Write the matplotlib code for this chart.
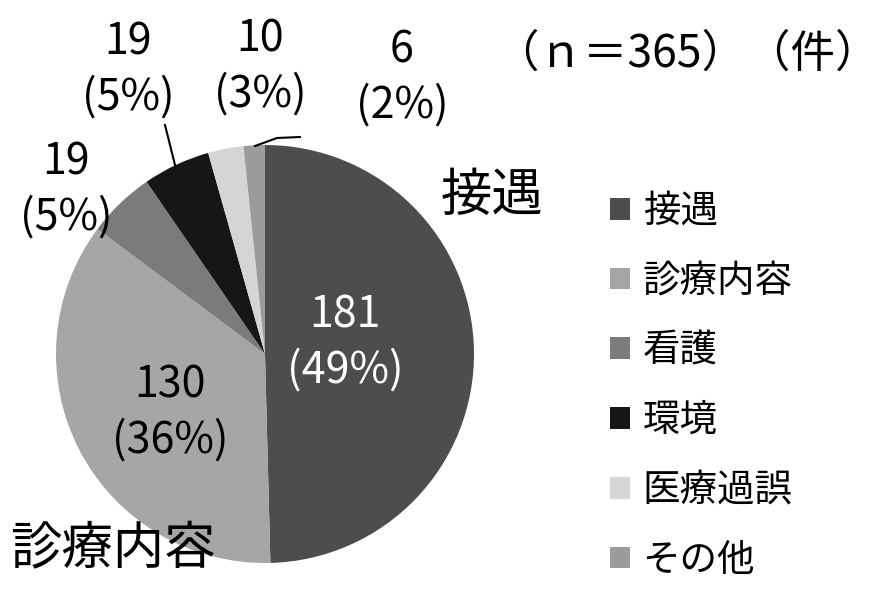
import matplotlib
matplotlib.use('Agg')
import matplotlib.pyplot as plt

plt.rcParams['font.family'] = ['Noto Sans CJK JP', 'DejaVu Sans']

# データ
categories = ['接遇', '診療内容', '看護', '環境', '医療過誤', 'その他']
counts = [181, 130, 19, 19, 10, 6]
percent_labels = ['49%', '36%', '5%', '5%', '3%', '2%']
colors = ['#4d4d4d', '#a6a6a6', '#7b7b7b', '#161616', '#d5d5d5', '#9b9b9b']
total_label = '（ｎ＝365）（件）'

W, H = 890, 592
fig = plt.figure(figsize=(W / 100, H / 100), dpi=100)
ax = fig.add_axes([0, 0, 1, 1])

# 円グラフ (中心と半径はピクセル単位)
cx, cy, r = 265, H - 354, 209
wedges, _ = ax.pie(counts, colors=colors, startangle=90, counterclock=False,
                   center=(cx, cy), radius=r, wedgeprops=dict(linewidth=0),
                   frame=True)
ax.set_xlim(0, W)
ax.set_ylim(0, H)
ax.set_aspect('equal')
ax.axis('off')

# 値ラベルの位置 (上からのピクセル座標)
label_pos = [(345, 343), (170, 413), (66, 190), (128, 70), (260, 67), (402, 78)]
label_color = ['white', 'black', 'black', 'black', 'black', 'black']
for n, p, (x, y), c in zip(counts, percent_labels, label_pos, label_color):
    ax.text(x, H - y, f'{n}\n({p})', ha='center', va='center', fontsize=31,
            color=c, linespacing=1.3)

# 引き出し線
ax.plot([165, 175], [H - 125, H - 165], color='black', lw=1.5)
ax.plot([255, 277, 300], [H - 146, H - 138, H - 137], color='black', lw=1.5)

# 分類名
ax.text(492, H - 196, categories[0], ha='center', va='center', fontsize=37)
ax.text(113, H - 549, categories[1], ha='center', va='center', fontsize=37)

ax.text(880, H - 54, total_label, ha='right', va='center', fontsize=32)

leg = ax.legend(wedges, categories, loc='upper left',
                bbox_to_anchor=(610 / W, (H - 192) / H), frameon=False,
                fontsize=27, handlelength=0.52, handleheight=0.52,
                handletextpad=0.35, labelspacing=0.82, borderpad=0,
                borderaxespad=0)

fig.savefig('out.png', dpi=100)
